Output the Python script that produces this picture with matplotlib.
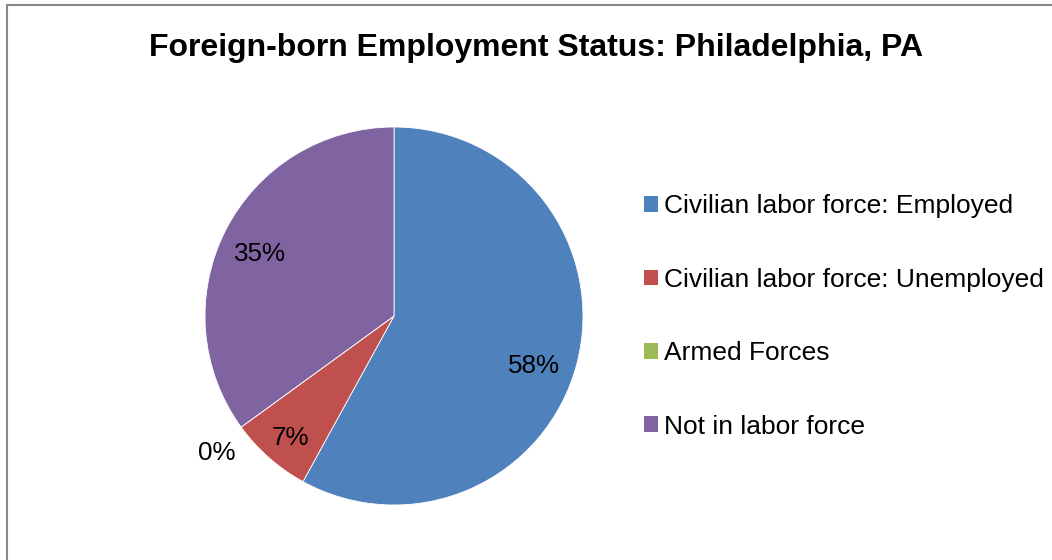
import numpy as np
import matplotlib
matplotlib.use("Agg")
import matplotlib.pyplot as plt
from matplotlib.patches import Rectangle

plt.rcParams["font.family"] = ["Liberation Sans", "DejaVu Sans"]

TITLE = "Foreign-born Employment Status: Philadelphia, PA"
categories = [
    "Civilian labor force: Employed",
    "Civilian labor force: Unemployed",
    "Armed Forces",
    "Not in labor force",
]
shares = [58, 7, 0, 35]
colors = ["#4F81BD", "#C0504D", "#9BBB59", "#8064A2"]
# percentage label placement: radius (in pie radii) and angular nudge (deg)
label_dist = [0.783, 0.84, 1.177, 0.786]
label_nudge = [-4.5, 0.5, 1.3, 1.5]

W, H = 1052, 560
fig = plt.figure(figsize=(W / 100, H / 100), dpi=100)

# chart-area border (open at right and bottom where it runs off the image)
fig.patches.append(Rectangle((7 / W, -0.05), 1.1, (H - 5) / H + 0.05,
                             transform=fig.transFigure, fill=False,
                             edgecolor="#878787", linewidth=1.5))

cx, cy, r = 394, 316, 189
ax = fig.add_axes([(cx - r) / W, (H - cy - r) / H, 2 * r / W, 2 * r / H])
wedges, _ = ax.pie(shares, colors=colors, startangle=90, counterclock=False,
                   radius=1, wedgeprops=dict(edgecolor="white", linewidth=0.6))
ax.set_xlim(-1, 1)
ax.set_ylim(-1, 1)
ax.set_aspect("equal")
ax.axis("off")

for w, v, d, nudge in zip(wedges, shares, label_dist, label_nudge):
    mid = np.deg2rad((w.theta1 + w.theta2) / 2 + nudge)
    ax.annotate(f"{v}%", (d * np.cos(mid), d * np.sin(mid)),
                xytext=(0, -6.5), textcoords="offset points",
                ha="center", va="baseline", fontsize=18.7, color="black",
                annotation_clip=False)

fig.text(536 / W, 1 - 48 / H, TITLE, ha="center", va="center",
         fontsize=23, fontweight="bold")

handles = [Rectangle((0, 0), 1, 1, facecolor=c, edgecolor="none") for c in colors]
fig.legend(handles, categories, loc="center left",
           bbox_to_anchor=(644 / W, 1 - 316.5 / H), frameon=False,
           fontsize=19, borderpad=0, borderaxespad=0,
           handlelength=0.53, handleheight=0.53, handletextpad=0.23,
           labelspacing=1.87)

fig.savefig("out.png", dpi=100)
